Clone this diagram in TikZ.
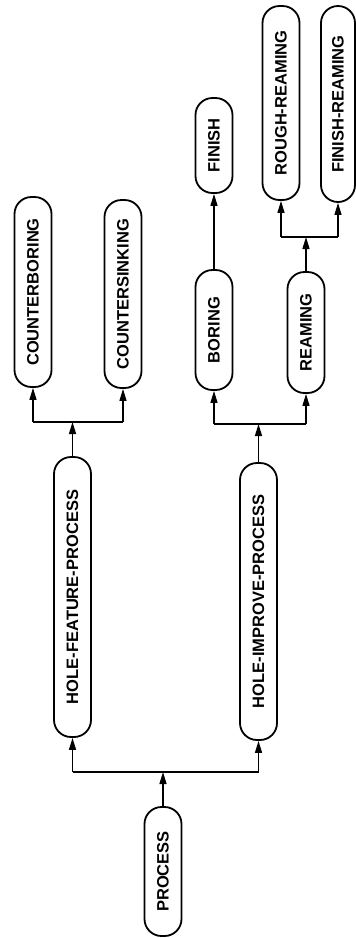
\documentclass[tikz,border=0pt]{standalone}
\usepackage{fontspec}
\setmainfont{Liberation Sans}
\usetikzlibrary{arrows.meta}
\tikzset{
  box/.style={draw, line width=1.8pt, rounded corners=17pt, minimum width=37pt,
    inner sep=0pt, font=\fontsize{16.5}{17}\selectfont\bfseries},
  conn/.style={line width=1.3pt},
  arr/.style={conn, -{Triangle[length=12pt,width=7pt]}}
}
\newcommand{\rt}[1]{\rotatebox{90}{#1}}
\begin{document}
\begin{tikzpicture}[x=1pt,y=1pt]
\useasboundingbox (0,0) rectangle (356,-938);
\node[box, minimum height=129pt] (process) at (163,-871.5) {\rt{PROCESS}};
\node[box, minimum height=280pt] (hfp) at (72.5,-597) {\rt{HOLE-FEATURE-PROCESS}};
\node[box, minimum height=277pt] (hip) at (258.5,-601.5) {\rt{HOLE-IMPROVE-PROCESS}};
\node[box, minimum height=190pt] (cb) at (33,-292) {\rt{COUNTERBORING}};
\node[box, minimum height=188pt] (cs) at (123,-294) {\rt{COUNTERSINKING}};
\node[box, minimum height=120pt] (boring) at (214,-330) {\rt{BORING}};
\node[box, minimum height=121pt] (reaming) at (306,-332.5) {\rt{REAMING}};
\node[box, minimum height=95pt] (finish) at (214,-145.5) {\rt{FINISH}};
\node[box, minimum height=194pt] (rr) at (281,-103) {\rt{ROUGH-REAMING}};
\node[box, minimum width=34pt, minimum height=196pt] (fr) at (338,-104) {\rt{FINISH-REAMING}};
\coordinate (j1) at (0,-772);
\coordinate (j2) at (0,-422);
\coordinate (j3) at (0,-424);
\coordinate (j4) at (0,-237);
% process
\draw[arr] (process.north) -- (process.north |- j1);
\draw[conn] (hfp.south |- j1) -- (hip.south |- j1);
\draw[arr] (hfp.south |- j1) -- (hfp.south);
\draw[arr] (hip.south |- j1) -- (hip.south);
% hole-feature
\draw[arr] (hfp.north) -- (hfp.north |- j2);
\draw[conn] (cb.south |- j2) -- (cs.south |- j2);
\draw[arr] (cb.south |- j2) -- (cb.south);
\draw[arr] (cs.south |- j2) -- (cs.south);
% hole-improve
\draw[arr] (hip.north) -- (hip.north |- j3);
\draw[conn] (boring.south |- j3) -- (reaming.south |- j3);
\draw[arr] (boring.south |- j3) -- (boring.south);
\draw[arr] (reaming.south |- j3) -- (reaming.south);
% boring
\draw[arr] (boring.north) -- (finish.south);
% reaming
\draw[arr] (reaming.north) -- (reaming.north |- j4);
\draw[conn] (rr.south |- j4) -- (fr.south |- j4);
\draw[arr] (rr.south |- j4) -- (rr.south);
\draw[arr] (fr.south |- j4) -- (fr.south);
\end{tikzpicture}
\end{document}
